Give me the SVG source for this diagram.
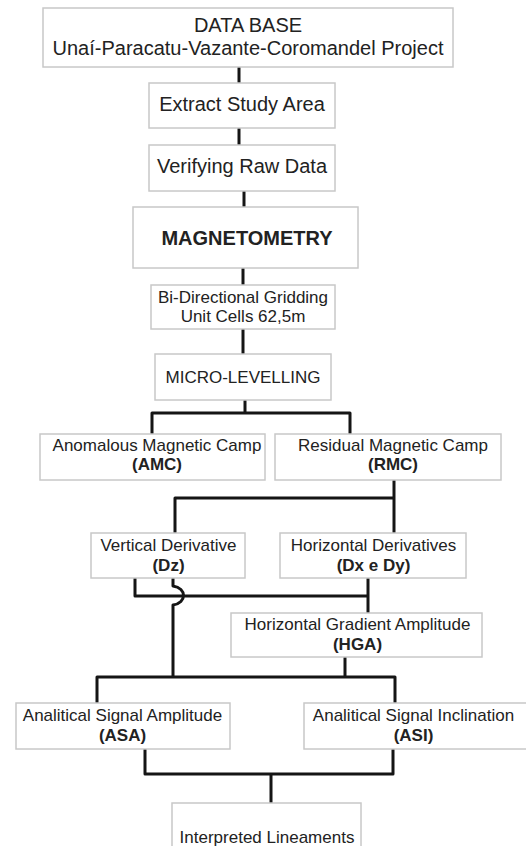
<svg xmlns="http://www.w3.org/2000/svg" width="526" height="846" viewBox="0 0 526 846">
<style>
.box{fill:#fff;stroke:#c8c8c8;stroke-width:1.5}
.t{font-family:"Liberation Sans",Arial,sans-serif;fill:#222;text-anchor:middle}
.l{font-size:20px}
.s{font-size:17px}
.b{font-weight:bold}
.c{fill:none;stroke:#151515;stroke-width:3;stroke-linejoin:round;stroke-linecap:butt}
</style>
<rect width="526" height="846" fill="#fff"/>
<g id="connectors">
<path class="c" d="M239,67V83"/>
<path class="c" d="M239,128V145"/>
<path class="c" d="M244,191V207"/>
<path class="c" d="M243,268V285"/>
<path class="c" d="M243,329V354"/>
<path class="c" d="M245,400V413"/>
<path class="c" d="M152,434V413H350V434"/>
<path class="c" d="M394,480V533"/>
<path class="c" d="M394,498H175V533"/>
<path class="c" d="M135,578V596H368"/>
<path class="c" d="M368,578V613"/>
<path class="c" d="M173,578V586C187,588 187,603 173,605V677"/>
<path class="c" d="M345,657V677"/>
<path class="c" d="M97,703V677H395V703"/>
<path class="c" d="M145,749V774H393V749"/>
<path class="c" d="M271,774V803"/>
</g>
<g id="database">
<rect class="box" x="43" y="8" width="410" height="59"/>
<text class="t l" x="248" y="32">DATA BASE</text>
<text class="t l" x="248" y="55">Unaí-Paracatu-Vazante-Coromandel Project</text>
</g>
<g id="extract">
<rect class="box" x="149" y="83" width="186" height="45"/>
<text class="t l" x="242" y="111">Extract Study Area</text>
</g>
<g id="verify">
<rect class="box" x="149" y="145" width="186" height="46"/>
<text class="t l" x="242" y="173">Verifying Raw Data</text>
</g>
<g id="magnetometry">
<rect class="box" x="133" y="207" width="225" height="61"/>
<text class="t l b" x="247" y="245">MAGNETOMETRY</text>
</g>
<g id="gridding">
<rect class="box" x="151" y="285" width="184" height="44"/>
<text class="t s" x="243" y="303">Bi-Directional Gridding</text>
<text class="t s" x="243" y="322">Unit Cells 62,5m</text>
</g>
<g id="microlevelling">
<rect class="box" x="155" y="354" width="176" height="46"/>
<text class="t s" x="243" y="383">MICRO-LEVELLING</text>
</g>
<g id="amc">
<rect class="box" x="40" y="434" width="225" height="46"/>
<text class="t s" x="157" y="451">Anomalous Magnetic Camp</text>
<text class="t s b" x="157" y="470">(AMC)</text>
</g>
<g id="rmc">
<rect class="box" x="275" y="434" width="226" height="46"/>
<text class="t s" x="393" y="451">Residual Magnetic Camp</text>
<text class="t s b" x="393" y="470">(RMC)</text>
</g>
<g id="dz">
<rect class="box" x="91" y="533" width="154" height="45"/>
<text class="t s" x="168.5" y="551">Vertical Derivative</text>
<text class="t s b" x="168.5" y="571">(Dz)</text>
</g>
<g id="dxdy">
<rect class="box" x="280" y="533" width="186" height="45"/>
<text class="t s" x="373.5" y="551">Horizontal Derivatives</text>
<text class="t s b" x="373.5" y="571">(Dx e Dy)</text>
</g>
<g id="hga">
<rect class="box" x="231" y="613" width="251" height="44"/>
<text class="t s" x="357.5" y="630">Horizontal Gradient Amplitude</text>
<text class="t s b" x="357.5" y="650">(HGA)</text>
</g>
<g id="asa">
<rect class="box" x="16" y="703" width="214" height="46"/>
<text class="t s" x="122.5" y="721">Analitical Signal Amplitude</text>
<text class="t s b" x="122.5" y="741">(ASA)</text>
</g>
<g id="asi">
<rect class="box" x="304" y="703" width="230" height="46"/>
<text class="t s" x="413.5" y="721">Analitical Signal Inclination</text>
<text class="t s b" x="413.5" y="741">(ASI)</text>
</g>
<g id="lineaments">
<rect class="box" x="172" y="803" width="189" height="60"/>
<text class="t s" x="267" y="843">Interpreted Lineaments</text>
</g>
</svg>
